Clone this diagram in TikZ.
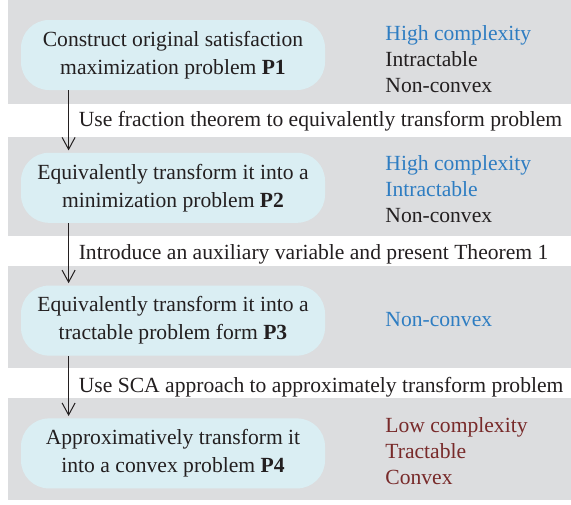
\documentclass[tikz,border=0pt]{standalone}
\usepackage{fontspec}
\setmainfont{Liberation Serif}
\usetikzlibrary{positioning, arrows.meta}
\definecolor{bandgray}{RGB}{220,221,223}
\definecolor{boxblue}{RGB}{218,238,243}
\definecolor{txtblue}{RGB}{46,125,194}
\definecolor{txtred}{RGB}{120,42,42}
\definecolor{txtdark}{RGB}{35,31,32}
\tikzset{%
  band/.style={fill=bandgray, minimum width=281.5pt, inner sep=0pt},
  prob/.style={fill=boxblue, rounded corners=14pt, minimum width=152pt, minimum height=35pt, align=center, text=txtdark},
  feat/.style={anchor=west, align=left, inner sep=0pt, font=\fontsize{10.8}{13}\selectfont, text=txtdark},
  trf/.style={-{Straight Barb[length=6pt,width=6.5pt]}, line width=0.5pt, color=txtdark, shorten >=1pt},
  trlab/.style={right=1.5pt, text=txtdark}
}

\begin{document}
\begin{tikzpicture}[x=0.5pt, y=-0.5pt, font=\fontsize{10.8}{14}\selectfont]
        \useasboundingbox (0,0) rectangle (571,504);
        % grey bands behind each stage
        \node[band, minimum height=52pt]   (b1) at (289.5,52)    {};
        \node[band, minimum height=49.5pt] (b2) at (289.5,186.5) {};
        \node[band, minimum height=51pt]   (b3) at (289.5,317)   {};
        \node[band, minimum height=51pt]   (b4) at (289.5,449)   {};
        % problem stages
        \node[prob] (p1) at (173,55)          {Construct original satisfaction\\maximization problem \textbf{P1}};
        \node[prob] (p2) [below = 31pt of p1] {Equivalently transform it into a\\minimization problem \textbf{P2}};
        \node[prob] (p3) [below = 31pt of p2] {Equivalently transform it into a\\tractable problem form \textbf{P3}};
        \node[prob] (p4) [below = 31pt of p3] {Approximatively transform it\\into a convex problem \textbf{P4}};
        % properties of each problem
        \node[feat] (f1) at (385,59)  {\textcolor{txtblue}{High complexity}\\Intractable\\Non-convex};
        \node[feat] (f2) at (385,189) {\textcolor{txtblue}{High complexity}\\\textcolor{txtblue}{Intractable}\\Non-convex};
        \node[feat, text=txtblue] (f3) at (385,320) {Non-convex};
        \node[feat, text=txtred]  (f4) at (385,451) {Low complexity\\Tractable\\Convex};
        \path[trf]
        ([xshift=24pt]p1.south west) edge node[trlab] {Use fraction theorem to equivalently transform problem} ([xshift=24pt]p2.north west)
        ([xshift=24pt]p2.south west) edge node[trlab] {Introduce an auxiliary variable and present Theorem 1} ([xshift=24pt]p3.north west)
        ([xshift=24pt]p3.south west) edge node[trlab] {Use SCA approach to approximately transform problem} ([xshift=24pt]p4.north west);
      \end{tikzpicture}
\end{document}
